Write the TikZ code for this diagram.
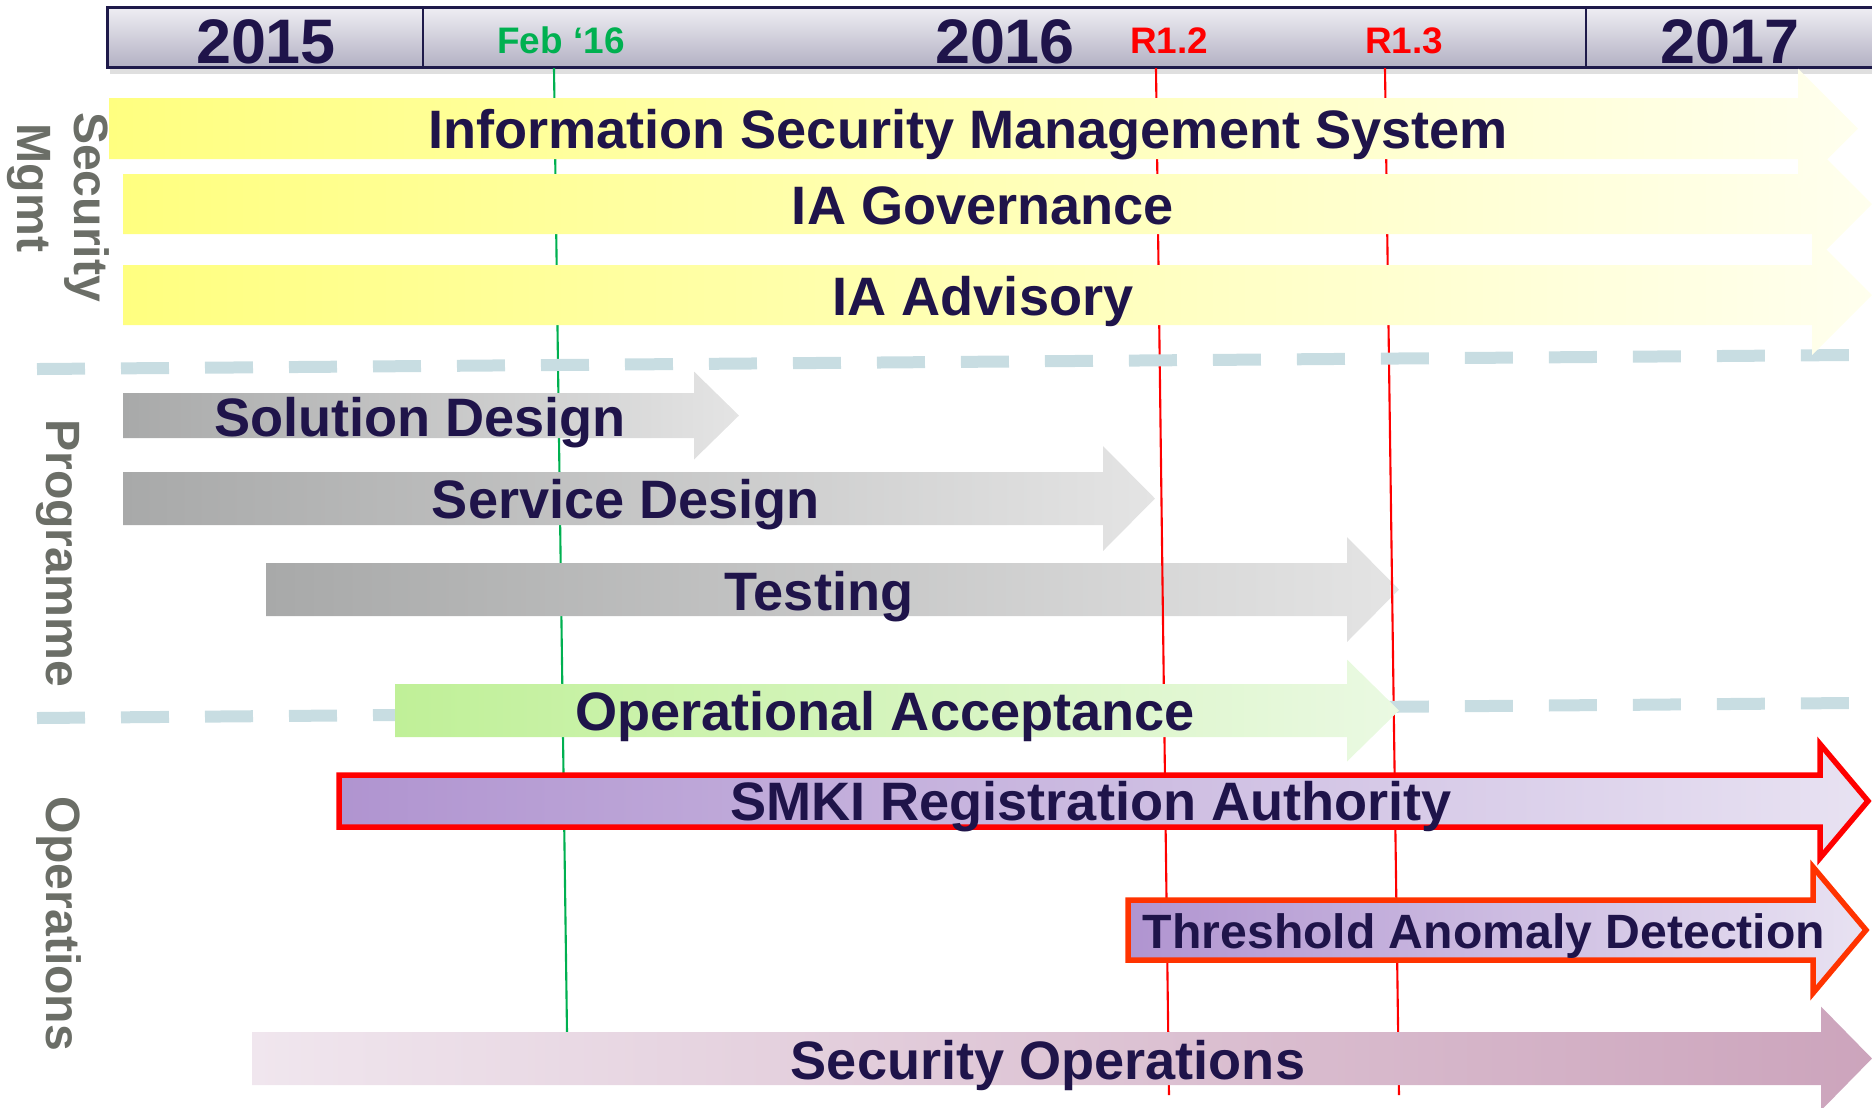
\documentclass[tikz,border=0pt]{standalone}
\usepackage{fontspec}
\setmainfont{Liberation Sans}
\usetikzlibrary{shadows}

\definecolor{navy}{RGB}{31,20,74}
\definecolor{sidegrey}{RGB}{107,110,103}
\definecolor{febgreen}{RGB}{0,176,80}
\definecolor{hdrtop}{RGB}{238,238,243}
\definecolor{hdrbot}{RGB}{178,176,195}
\definecolor{hdrline}{RGB}{30,26,74}
\definecolor{sepblue}{RGB}{200,221,226}
\definecolor{yelA}{RGB}{255,255,128}
\definecolor{yelB}{RGB}{255,255,238}
\definecolor{greyA}{RGB}{168,169,169}
\definecolor{greyB}{RGB}{228,228,228}
\definecolor{oaA}{RGB}{192,240,152}
\definecolor{oaB}{RGB}{234,249,226}
\definecolor{purA}{RGB}{176,148,208}
\definecolor{purB}{RGB}{232,226,242}
\definecolor{tadline}{RGB}{255,51,0}
\definecolor{secA}{RGB}{240,230,238}
\definecolor{secB}{RGB}{204,164,188}

% arrow: [style] x0, shaft end, tip, centre y, shaft half, head half
\newcommand{\tlarrow}[7][]{%
  \path[#1] ({#2},{#5-#6}) -- ({#3},{#5-#6}) -- ({#3},{#5-#7}) -- ({#4},{#5})
    -- ({#3},{#5+#7}) -- ({#3},{#5+#6}) -- ({#2},{#5+#6}) -- cycle;}

\begin{document}
\begin{tikzpicture}[x=1cm, y=-1cm,
  yearlbl/.style={font=\fontsize{17.9pt}{20pt}\selectfont\bfseries, text=navy, anchor=base, inner sep=0pt},
  mslbl/.style={font=\fontsize{10.5pt}{12pt}\selectfont\bfseries, anchor=base, inner sep=0pt},
  barlbl/.style={font=\fontsize{15.4pt}{18pt}\selectfont\bfseries, text=navy, anchor=base, inner sep=0pt},
  sidelbl/.style={font=\fontsize{13.7pt}{16pt}\selectfont\bfseries, text=sidegrey, rotate=-90, anchor=base, inner sep=0pt},
  msline/.style={line width=0.6pt},
  sepline/.style={draw=sepblue, line width=0.12cm, dash pattern=on 0.48cm off 0.36cm},
  yelbar/.style={left color=yelA, right color=yelB},
  greybar/.style={left color=greyA, right color=greyB},
  opsbar/.style={left color=purA, right color=purB, line width=0.055cm, miter limit=10}]
\useasboundingbox (0,0) rectangle (18.72,11.07);

% header
\path[top color=hdrtop, bottom color=hdrbot, draw=hdrline, line width=0.025cm,
  drop shadow={shadow xshift=0.02cm, shadow yshift=-0.06cm, opacity=0.25}]
  (1.075,0.075) rectangle (19.2,0.675);
\draw[hdrline, line width=0.025cm] (4.23,0.075) -- (4.23,0.675);
\draw[hdrline, line width=0.025cm] (15.86,0.075) -- (15.86,0.675);
\node[yearlbl] (y2015) at (2.66,0.63) {2015};
\node[yearlbl] (y2016) at (10.05,0.63) {2016};
\node[yearlbl] (y2017) at (17.30,0.63) {2017};
\node[mslbl, text=febgreen] (feb) at (5.61,0.53) {Feb ‘16};
\node[mslbl, text=red] (r12) at (11.69,0.53) {R1.2};
\node[mslbl, text=red] (r13) at (14.04,0.53) {R1.3};

\coordinate (feb top) at (5.54,0.68);
\coordinate (feb end) at (5.67,10.32);
\coordinate (r12 top) at (11.56,0.68);
\coordinate (r12 end) at (11.69,10.95);
\coordinate (r13 top) at (13.85,0.68);
\coordinate (r13 end) at (13.99,10.95);
\draw[msline, febgreen] (feb top) -- (feb end);

% programme
\tlarrow[greybar]{1.23}{6.94}{7.39}{4.155}{0.225}{0.44}
\tlarrow[greybar]{1.23}{11.03}{11.55}{4.985}{0.265}{0.525}
\tlarrow[greybar]{2.66}{13.47}{13.99}{5.895}{0.265}{0.525}

\draw[msline, red] (r12 top) -- (r12 end);
\draw[msline, red] (r13 top) -- (r13 end);

% separators
\coordinate (sepA west) at (0.37,3.69);
\coordinate (sepA east) at (18.49,3.55);
\coordinate (sepB west) at (0.37,7.18);
\coordinate (sepB east) at (18.49,7.03);
\draw[sepline] (sepA west) -- (sepA east);
\draw[sepline] (sepB west) -- (sepB east);

% security mgmt
\tlarrow[yelbar]{1.23}{18.12}{18.72}{2.95}{0.30}{0.60}
\tlarrow[yelbar]{1.23}{18.12}{18.72}{2.04}{0.30}{0.60}
\tlarrow[yelbar]{1.09}{17.98}{18.58}{1.285}{0.305}{0.60}

% operations
\tlarrow[left color=oaA, right color=oaB]{3.95}{13.47}{13.99}{7.105}{0.265}{0.51}
\tlarrow[opsbar, draw=red]{3.39}{18.20}{18.68}{8.01}{0.26}{0.57}
\tlarrow[opsbar, draw=tadline]{11.28}{18.13}{18.66}{9.30}{0.30}{0.63}
\tlarrow[left color=secA, right color=secB]{2.52}{18.21}{18.72}{10.585}{0.265}{0.52}

% labels
\node[barlbl] (isms) at (9.68,1.48) {Information Security Management System};
\node[barlbl] (gov) at (9.83,2.24) {IA Governance};
\node[barlbl] (adv) at (9.83,3.15) {IA Advisory};
\node[barlbl] (sol) at (4.20,4.36) {Solution Design};
\node[barlbl] (svc) at (6.26,5.18) {Service Design};
\node[barlbl] (tst) at (8.19,6.10) {Testing};
\node[barlbl] (oa) at (8.85,7.30) {Operational Acceptance};
\node[barlbl] (smki) at (10.91,8.20) {SMKI Registration Authority};
\node[barlbl, font=\fontsize{13.7pt}{16pt}\selectfont\bfseries] (tad) at (14.84,9.48) {Threshold Anomaly Detection};
\node[barlbl] (secops) at (10.48,10.79) {Security Operations};

\node[sidelbl] (secu) at (0.75,2.07) {Security};
\node[sidelbl] (mgmt) at (0.18,1.88) {Mgmt};
\node[sidelbl] (prog) at (0.46,5.53) {Programme};
\node[sidelbl] (oper) at (0.46,9.24) {Operations};
\end{tikzpicture}
\end{document}
